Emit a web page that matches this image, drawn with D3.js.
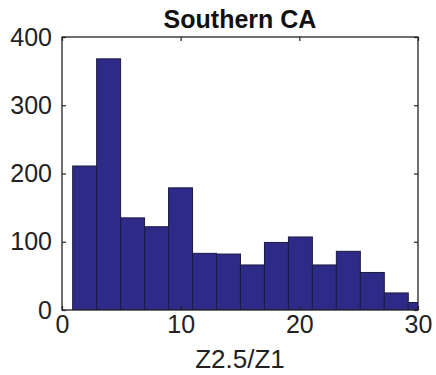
<!DOCTYPE html>
<html>
<head>
<meta charset="utf-8">
<script src="https://cdn.jsdelivr.net/npm/d3@7"></script>
<style>
  body { margin: 0; background: #fff; }
  svg { display: block; font-family: "Liberation Sans", Arial, Helvetica, sans-serif; }
</style>
</head>
<body>
<svg id="chart"></svg>
<script>
// histogram bins: left edges and counts
const binStart = 0.9;
const binWidth = 2.02;
const counts = [211, 368, 135, 122, 179, 83, 82, 66, 99, 107, 66, 86, 55, 25, 11];
const xTicks = [0, 10, 20, 30];
const yTicks = [0, 100, 200, 300, 400];
const title = "Southern CA";
const xLabel = "Z2.5/Z1";

const width = 436;
const height = 375;
const margin = { top: 37, right: 18, bottom: 65, left: 62 };

const svg = d3.select("#chart").attr("width", width).attr("height", height);

const chartWidth = width - margin.left - margin.right;
const chartHeight = height - margin.top - margin.bottom;

const bins = counts.map((c, i) => ({
  x0: binStart + i * binWidth,
  x1: binStart + (i + 1) * binWidth,
  value: c
}));

const x = d3.scaleLinear().domain([0, 30]).range([0, chartWidth]);
const y = d3.scaleLinear().domain([0, 400]).range([chartHeight, 0]);

const root = svg.append("g").attr("transform", `translate(${margin.left},${margin.top})`);

root.append("clipPath").attr("id", "clip")
  .append("rect").attr("width", chartWidth).attr("height", chartHeight);

root.append("g")
  .attr("clip-path", "url(#clip)")
  .selectAll("rect.bar")
  .data(bins)
  .join("rect")
  .attr("class", "bar")
  .attr("x", (d) => x(d.x0))
  .attr("width", (d) => x(d.x1) - x(d.x0))
  .attr("y", (d) => y(d.value))
  .attr("height", (d) => chartHeight - y(d.value))
  .attr("fill", "#2e2a88")
  .attr("stroke", "#1c1a40")
  .attr("stroke-width", 1);

// matlab-style box with inward ticks on all sides
const tickLen = 4;
function styleAxis(g) {
  g.select(".domain").remove();
  g.selectAll(".tick line").attr("stroke", "#222").attr("stroke-width", 1.2);
  g.selectAll(".tick text").attr("fill", "#222").attr("font-size", 25);
}

root.append("g")
  .attr("transform", `translate(0,${chartHeight})`)
  .call(d3.axisBottom(x).tickValues(xTicks).tickSize(-tickLen).tickPadding(5))
  .call(styleAxis);

root.append("g")
  .call(d3.axisTop(x).tickValues(xTicks).tickSize(-tickLen).tickFormat(""))
  .call(styleAxis);

root.append("g")
  .call(d3.axisLeft(y).tickValues(yTicks).tickSize(-tickLen).tickPadding(10))
  .call(styleAxis);

root.append("g")
  .attr("transform", `translate(${chartWidth},0)`)
  .call(d3.axisRight(y).tickValues(yTicks).tickSize(-tickLen).tickFormat(""))
  .call(styleAxis);

root.append("rect")
  .attr("width", chartWidth)
  .attr("height", chartHeight)
  .attr("fill", "none")
  .attr("stroke", "#222")
  .attr("stroke-width", 1.3);

svg.append("text")
  .attr("x", margin.left + chartWidth / 2)
  .attr("y", 28)
  .attr("text-anchor", "middle")
  .attr("font-size", 25)
  .attr("font-weight", "bold")
  .attr("fill", "#111")
  .text(title);

svg.append("text")
  .attr("x", margin.left + chartWidth / 2)
  .attr("y", 368)
  .attr("text-anchor", "middle")
  .attr("font-size", 26)
  .attr("fill", "#222")
  .text(xLabel);
</script>
</body>
</html>
